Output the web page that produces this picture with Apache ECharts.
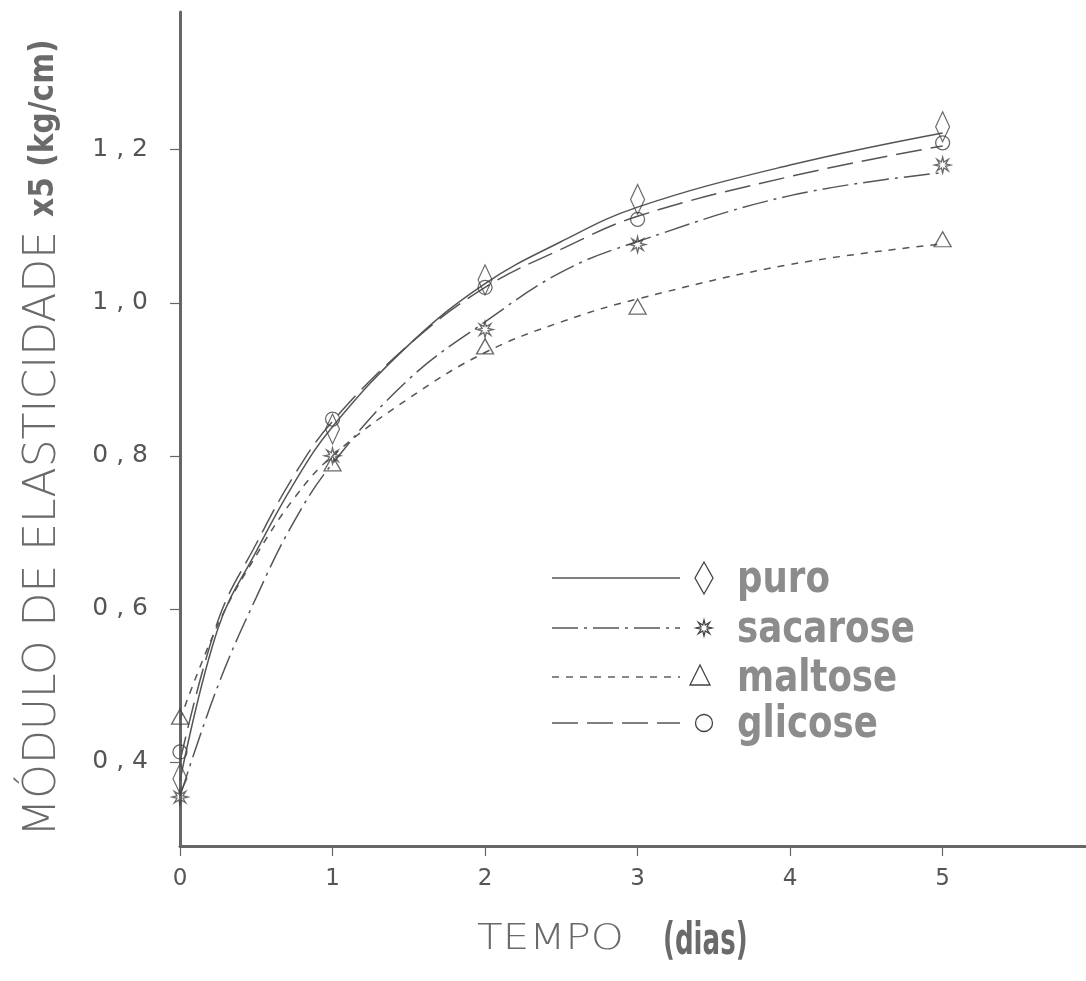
<!DOCTYPE html>
<html><head><meta charset="utf-8">
<script src="https://cdn.jsdelivr.net/npm/echarts@6/dist/echarts.min.js"></script>
<style>html,body{margin:0;padding:0;background:#fff}#c{width:1086px;height:981px}</style>
</head><body><div id="c"></div>
<script>
// measured points (dias vs módulo)
const days = [0, 1, 2, 3, 5];
const puro = [0.378, 0.835, 1.03, 1.135, 1.23];
const sacarose = [0.354, 0.80, 0.965, 1.076, 1.18];
const maltose = [0.459, 0.79, 0.943, 0.995, 1.083];
const glicose = [0.413, 0.848, 1.02, 1.109, 1.209];
// fitted curves
const curveX = [0, 0.25, 0.5, 0.75, 1, 1.5, 2, 2.5, 3, 4, 5];
const puroFit = [0.375, 0.575, 0.675, 0.765, 0.838, 0.945, 1.025, 1.08, 1.125, 1.18, 1.222];
const glicoseFit = [0.40, 0.585, 0.685, 0.775, 0.845, 0.945, 1.02, 1.07, 1.113, 1.165, 1.205];
const sacaroseFit = [0.355, 0.50, 0.615, 0.715, 0.79, 0.90, 0.975, 1.04, 1.08, 1.14, 1.17];
const maltoseFit = [0.455, 0.58, 0.67, 0.745, 0.80, 0.875, 0.935, 0.975, 1.005, 1.05, 1.077];
const xTicks = [0, 1, 2, 3, 4, 5];
const yTicks = [0.4, 0.6, 0.8, 1.0, 1.2];
const names = ['puro', 'sacarose', 'maltose', 'glicose'];

function starPoints(n, r1, r2) {
  const p = [];
  for (let k = 0; k < 2 * n; k++) {
    const a = Math.PI * k / n - Math.PI / 2;
    const r = k % 2 ? r2 : r1;
    p.push([r * Math.cos(a), r * Math.sin(a)]);
  }
  return p;
}
const STARPTS = starPoints(8, 10, 4);
const STAR = 'path://' + STARPTS.map((q, k) => (k ? 'L' : 'M') + q[0].toFixed(2) + ',' + q[1].toFixed(2)).join('') + 'Z';

const markStyle = { color: 'rgba(0,0,0,0)', borderColor: '#444', borderWidth: 1.3 };
const dashes = { puro: null, sacarose: [26, 6, 3, 6], maltose: [7, 7], glicose: [26, 9] };
const symbols = {
  puro: ['diamond', [14, 30]],
  sacarose: [STAR, 16],
  maltose: ['triangle', [17, 15]],
  glicose: ['circle', 14]
};
const pts = { puro, sacarose, maltose, glicose };
const fits = { puro: puroFit, sacarose: sacaroseFit, maltose: maltoseFit, glicose: glicoseFit };

const series = [];
names.forEach(n => {
  series.push({
    name: n, type: 'line', smooth: 0.4, showSymbol: false, z: 2,
    data: curveX.map((x, i) => [x, fits[n][i]]),
    lineStyle: { color: '#555', width: 1.5, type: dashes[n] || 'solid' }
  });
  series.push({
    name: n + ' pts', type: 'scatter', z: 3,
    symbol: symbols[n][0], symbolSize: symbols[n][1],
    data: days.map((d, i) => [d, pts[n][i]]),
    itemStyle: markStyle
  });
});

// legend built as graphics (line, marker, label)
const legendRows = [578, 628, 677, 723];
const legendGraphics = [];
names.forEach((n, i) => {
  const y = legendRows[i];
  legendGraphics.push({ type: 'line', shape: { x1: 552, y1: y, x2: 680, y2: y },
    style: { stroke: '#555', lineWidth: 1.4, lineDash: dashes[n] || null } });
  let m;
  if (n === 'puro') m = { type: 'polygon', shape: { points: [[704, y - 16], [713, y], [704, y + 16], [695, y]] } };
  else if (n === 'sacarose') m = { type: 'polygon', shape: { points: STARPTS.map(q => [704 + q[0] * 0.8, y + q[1] * 0.8]) } };
  else if (n === 'maltose') m = { type: 'polygon', shape: { points: [[700, y - 12], [710, y + 8], [690, y + 8]] } };
  else m = { type: 'circle', shape: { cx: 704, cy: y, r: 8.5 } };
  m.style = { fill: 'none', stroke: '#444', lineWidth: 1.3 };
  legendGraphics.push(m);
  legendGraphics.push({ type: 'text', x: 737, y: y + 2, scaleY: 2.05, scaleX: 1.8,
    style: { text: n, fontFamily: 'DejaVu Sans Condensed', fontWeight: 'bold', fontSize: 22,
      fill: '#8c8c8c', textAlign: 'left', textVerticalAlign: 'middle' } });
});

const chart = echarts.init(document.getElementById('c'), null, { renderer: 'canvas' });
chart.setOption({
  backgroundColor: '#fff',
  animation: false,
  grid: { left: 180, right: 0, top: 12, bottom: 135 },
  xAxis: {
    type: 'value', min: 0, max: 5.94,
    axisLine: { onZero: false, lineStyle: { color: '#666', width: 3 } },
    axisTick: { show: true, length: 10, customValues: xTicks, lineStyle: { color: '#666', width: 1.2 } },
    axisLabel: { customValues: xTicks, margin: 22, fontSize: 23, color: '#555', fontFamily: 'DejaVu Sans' },
    splitLine: { show: false }
  },
  yAxis: {
    type: 'value', min: 0.29, max: 1.38,
    axisLine: { onZero: false, lineStyle: { color: '#666', width: 3 } },
    axisTick: { show: true, length: 10, customValues: yTicks, lineStyle: { color: '#666', width: 1.2 } },
    axisLabel: { customValues: yTicks, margin: 32, fontSize: 25, color: '#555', fontFamily: 'DejaVu Sans',
      formatter: v => v.toFixed(1).replace('.', ' , ') },
    splitLine: { show: false }
  },
  series: series,
  graphic: legendGraphics.concat([
    { type: 'text', x: 44, y: 438, rotation: Math.PI / 2,
      style: { text: '{a|MÓDULO DE ELASTICIDADE }{b|x5 (kg/cm)}', textAlign: 'center', textVerticalAlign: 'middle',
        fill: '#6a6a6a',
        rich: { a: { fontFamily: 'DejaVu Sans', fontSize: 44, fill: '#6a6a6a', fontWeight: 'lighter' },
                b: { fontFamily: 'DejaVu Sans Condensed', fontWeight: 'bold', fontSize: 33, fill: '#6a6a6a' } } } },
    { type: 'text', x: 477, y: 940, scaleX: 1.2,
      style: { text: 'TEMPO', textAlign: 'left', textVerticalAlign: 'middle',
        fontFamily: 'DejaVu Sans', fontSize: 35, fill: '#6a6a6a', fontWeight: 'lighter' } },
    { type: 'text', x: 663, y: 942, scaleY: 1.55,
      style: { text: '(dias)', textAlign: 'left', textVerticalAlign: 'middle',
        fontFamily: 'DejaVu Sans Condensed', fontWeight: 'bold', fontSize: 29, fill: '#6a6a6a' } }
  ])
});
</script></body></html>
